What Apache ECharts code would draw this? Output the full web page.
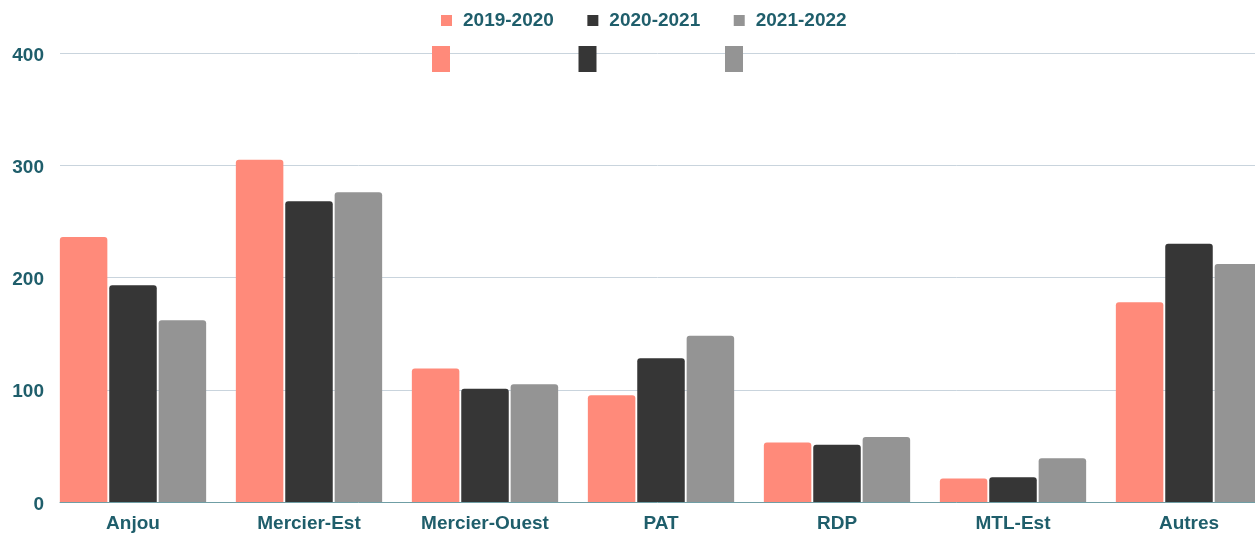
<!DOCTYPE html>
<html>
<head>
<meta charset="utf-8">
<script src="https://cdn.jsdelivr.net/npm/echarts@6/dist/echarts.min.js"></script>
<style>html,body{margin:0;padding:0;background:#fff}#c{width:1255px;height:533px}</style>
</head>
<body>
<div id="c"></div>
<script>
var categories = ['Anjou', 'Mercier-Est', 'Mercier-Ouest', 'PAT', 'RDP', 'MTL-Est', 'Autres'];
var seriesNames = ['2019-2020', '2020-2021', '2021-2022'];
var s2019 = [236, 305, 119, 95, 53, 21, 178];
var s2020 = [193, 268, 101, 128, 51, 22, 230];
var s2021 = [162, 276, 105, 148, 58, 39, 212];
var yTicks = [0, 100, 200, 300, 400];
var colors = ['#FF8A7A', '#363636', '#949494'];
var txt = '#1f5e6b';
var font = '"Liberation Sans", Arial, sans-serif';

var chart = echarts.init(document.getElementById('c'), null, {renderer: 'canvas'});
var values = [s2019, s2020, s2021];
var series = seriesNames.map(function (n, i) {
  return {
    name: n, type: 'bar', xAxisIndex: 0, yAxisIndex: 0,
    data: values[i], barWidth: 47.5, barGap: '4%',
    itemStyle: {color: colors[i], borderRadius: [3, 3, 0, 0]},
    z: 2
  };
});
chart.setOption({
  animation: false,
  color: colors,
  grid: [
    {left: 45, top: 53, width: 1232, height: 449, outerBoundsMode: 'none', containLabel: false},
    {left: 60, top: 53, right: 0, height: 449, outerBoundsMode: 'none', containLabel: false}
  ],
  legend: [
    {
      data: seriesNames, left: 441, top: 11, padding: 0, icon: 'rect', itemWidth: 11, itemHeight: 11,
      itemGap: 33.5, selectedMode: false,
      textStyle: {color: txt, fontFamily: font, fontWeight: 'bold', fontSize: 19, padding: [0, 0, 0, 6]}
    },
    {
      data: seriesNames, left: 432, top: 46, padding: 0, icon: 'rect', itemWidth: 18, itemHeight: 26,
      itemGap: 128.5, selectedMode: false, formatter: function () { return ''; },
      textStyle: {fontSize: 1}
    }
  ],
  xAxis: [
    {
      type: 'category', gridIndex: 0, data: categories,
      axisLine: {show: false}, axisTick: {show: false},
      axisLabel: {color: txt, fontFamily: font, fontWeight: 'bold', fontSize: 19, margin: 12, interval: 0}
    },
    {
      type: 'value', gridIndex: 1, min: 0, max: 1, z: 5,
      axisLine: {show: true, lineStyle: {color: '#6f9ea5', width: 1}},
      axisTick: {show: false}, axisLabel: {show: false}, splitLine: {show: false}
    }
  ],
  yAxis: [
    {
      type: 'value', gridIndex: 0, min: 0, max: 400, show: false, splitLine: {show: false}
    },
    {
      type: 'value', gridIndex: 1, min: 0, max: 400, interval: 100,
      axisLine: {show: false}, axisTick: {show: false},
      axisLabel: {
        color: txt, fontFamily: font, fontWeight: 'bold', fontSize: 19, margin: 16,
        verticalAlign: 'top', lineHeight: 5, customValues: yTicks
      },
      splitLine: {show: true, lineStyle: {color: '#c9d4dd', width: 1}}
    }
  ],
  series: series
});
</script>
</body>
</html>
